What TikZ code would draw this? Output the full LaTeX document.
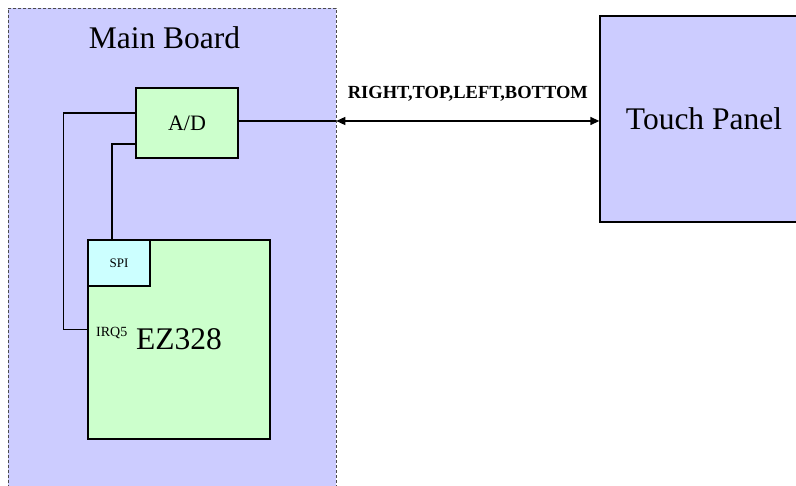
\documentclass[tikz,border=0pt]{standalone}
\usepackage{fontspec}
\setmainfont{Liberation Serif}
\usetikzlibrary{arrows.meta, positioning}

\definecolor{boardblue}{HTML}{CCCCFF}
\definecolor{chipgreen}{HTML}{CCFFCC}
\definecolor{spicyan}{HTML}{CCFFFF}

\begin{document}
\begin{tikzpicture}[x=1pt, y=-1pt,
    board/.style={draw=black!70, fill=boardblue, line width=0.6pt, dash pattern=on 3pt off 2pt, minimum width=328pt, minimum height=492pt, inner sep=0pt},
    chip/.style={draw, fill=chipgreen, line width=1.3pt, inner sep=0pt},
    bigtxt/.style={font=\fontsize{31.5}{36}\selectfont},
    wire/.style={line width=1.3pt}]
    \useasboundingbox (0,0) rectangle (796,486);
    % boards
    \node[board] (mb) at (172,254) {};
    \node[anchor=base, bigtxt] (mbname) at (164.5,49) {Main Board};
    \node[chip, fill=boardblue, minimum width=208pt, minimum height=206pt, bigtxt] (tp) at (704,119) {Touch Panel};
    % parts on the main board
    \node[chip, minimum width=102pt, minimum height=70pt, font=\fontsize{22}{26}\selectfont] (ad) at (187,123) {A/D};
    \node[chip, minimum width=182pt, minimum height=199pt, bigtxt] (ez) at (179,339.5) {EZ328};
    \node[chip, fill=spicyan, minimum width=62pt, minimum height=46pt, font=\fontsize{13}{15}\selectfont] (spi) at (119,263) {SPI};
    \node[anchor=base west, inner sep=0pt, font=\fontsize{14}{16}\selectfont] (irq) at (96,337) {IRQ5};
    % wires
    \draw[wire] ([yshift=10pt]ad.west) -- ++(-72,0) |- ([yshift=10pt]ez.west);
    \draw[wire] ([yshift=-21pt]ad.west) -| ([xshift=-7pt]spi.north);
    \coordinate (edge) at (mb.east |- 0,121);
    \draw[wire] ([yshift=2pt]ad.east) -- (edge);
    \draw[wire, {Triangle[length=9pt,width=8pt]}-{Triangle[length=9pt,width=8pt]}] (edge) -- (edge -| tp.west)
        node[midway, above=16pt, font=\fontsize{18.5}{22}\selectfont\bfseries] (sig) {RIGHT,TOP,LEFT,BOTTOM};
\end{tikzpicture}
\end{document}
